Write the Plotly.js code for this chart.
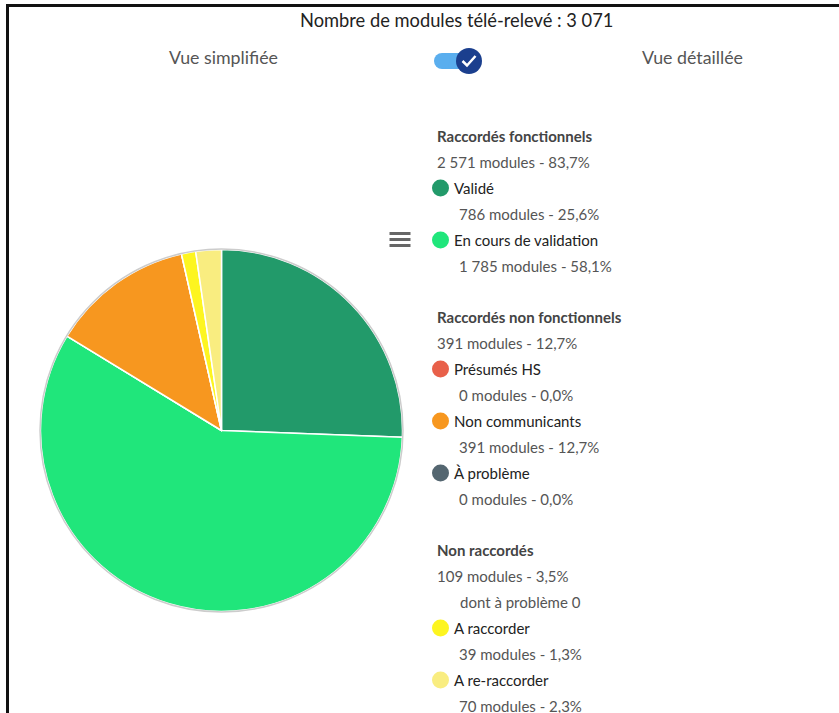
<!DOCTYPE html>
<html>
<head>
<meta charset="utf-8">
<script src="https://cdn.plot.ly/plotly-3.0.1.min.js"></script>
<style>html,body{margin:0;padding:0;background:#fff;}#chart{width:839px;height:713px;}</style>
</head>
<body>
<div id="chart"></div>
<script>
// ---- data ----
const groupNames = ["Raccordés fonctionnels", "Raccordés non fonctionnels", "Non raccordés"];
const labels = ["Validé", "En cours de validation", "Présumés HS", "Non communicants", "À problème", "A raccorder", "A re-raccorder"];
const values = [786, 1785, 0, 391, 0, 39, 70];
const colors = ["#229a6a", "#20e67b", "#e8604a", "#f7971f", "#546670", "#fdf520", "#f9ed80"];
const groupOf = [0, 0, 1, 1, 1, 2, 2];
const groupProblem = [null, null, 0];
const titleText = "Nombre de modules télé-relevé";
const toggleLeft = "Vue simplifiée";
const toggleRight = "Vue détaillée";

// ---- helpers ----
const W = 839, H = 713;
const px = x => x / W;
const py = y => 1 - y / H;
const fmtInt = n => String(n).replace(/\B(?=(\d{3})+(?!\d))/g, " ");
const fmtPct = p => p.toFixed(1).replace(".", ",") + "%";
const total = values.reduce((a, b) => a + b, 0);

const FONT = "Lato, 'Open Sans', sans-serif";
const annotations = [];
const shapes = [];
function txt(x, y, text, opts) {
  opts = opts || {};
  annotations.push({
    xref: "paper", yref: "paper", x: px(x), y: py(y), text: text,
    xanchor: opts.xanchor || "left", yanchor: "middle", showarrow: false,
    font: {family: FONT, size: opts.size || 15, color: opts.color || "#444"}
  });
}

// title & toggle
txt(456, 20, titleText + " : " + fmtInt(total), {xanchor: "center", size: 18.3, color: "#222"});
txt(223, 57, toggleLeft, {xanchor: "center", size: 17.8, color: "#555"});
txt(692, 57, toggleRight, {xanchor: "center", size: 17.8, color: "#555"});

// toggle track
shapes.push({type: "path", xref: "paper", yref: "paper",
  path: `M ${px(442)} ${py(53)} L ${px(466)} ${py(53)} L ${px(466)} ${py(69)} L ${px(442)} ${py(69)} Z`,
  fillcolor: "#5aaeee", line: {width: 0}});
shapes.push({type: "circle", xref: "paper", yref: "paper", x0: px(434), x1: px(450), y0: py(53), y1: py(69), fillcolor: "#5aaeee", line: {width: 0}});
shapes.push({type: "circle", xref: "paper", yref: "paper", x0: px(456), x1: px(482), y0: py(48), y1: py(74), fillcolor: "#1b3f8e", line: {width: 0}});
shapes.push({type: "path", xref: "paper", yref: "paper",
  path: `M ${px(462.5)} ${py(61)} L ${px(467)} ${py(65.5)} L ${px(475.5)} ${py(56)}`,
  line: {color: "#ffffff", width: 2.5}});

// frame
shapes.push({type: "line", xref: "paper", yref: "paper", x0: px(6), x1: px(839), y0: py(5.5), y1: py(5.5), line: {color: "#111", width: 3}});
shapes.push({type: "line", xref: "paper", yref: "paper", x0: px(7.5), x1: px(7.5), y0: py(4), y1: py(713), line: {color: "#111", width: 3}});

// hamburger menu
[233.5, 239.5, 245.5].forEach(y => shapes.push({type: "line", xref: "paper", yref: "paper",
  x0: px(389.5), x1: px(410.5), y0: py(y), y1: py(y), line: {color: "#666", width: 3}}));

// legend
let y = 136;
groupNames.forEach((g, gi) => {
  const idx = labels.map((_, i) => i).filter(i => groupOf[i] === gi);
  const gsum = idx.reduce((a, i) => a + values[i], 0);
  annotations.push({xref: "paper", yref: "paper", x: px(435), y: py(y), text: "<b>" + g + "</b>",
    xanchor: "left", yanchor: "middle", showarrow: false, font: {family: FONT, size: 15, color: "#444"}});
  y += 26;
  txt(435, y, fmtInt(gsum) + " modules - " + fmtPct(gsum / total * 100), {color: "#555"});
  y += 26;
  if (groupProblem[gi] !== null) {
    txt(458, y, "dont à problème " + groupProblem[gi], {color: "#555"});
    y += 26;
  }
  idx.forEach(i => {
    shapes.push({type: "circle", xref: "paper", yref: "paper", x0: px(432), x1: px(449), y0: py(y - 8.5), y1: py(y + 8.5),
      fillcolor: colors[i], line: {width: 0}});
    txt(452, y, labels[i], {color: "#222"});
    y += 26;
    txt(457, y, fmtInt(values[i]) + " modules - " + fmtPct(values[i] / total * 100), {color: "#555"});
    y += 26;
  });
  y += 25;
});

// pie outline
const cx = 221.5, cy = 430.5, R = 181;
shapes.push({type: "circle", xref: "paper", yref: "paper", layer: "above",
  x0: px(cx - R - 0.5), x1: px(cx + R + 0.5), y0: py(cy + R + 0.5), y1: py(cy - R - 0.5),
  line: {color: "#cccccc", width: 1.5}});

const trace = {
  type: "pie", values: values, labels: labels, sort: false, direction: "clockwise", rotation: 0,
  marker: {colors: colors, line: {color: "#ffffff", width: 1.5}},
  textinfo: "none", hoverinfo: "label+value+percent", showlegend: false,
  domain: {x: [px(cx - R), px(cx + R)], y: [py(cy + R), py(cy - R)]}
};

Plotly.newPlot("chart", [trace], {
  width: W, height: H, margin: {l: 0, r: 0, t: 0, b: 0},
  paper_bgcolor: "#ffffff", showlegend: false,
  annotations: annotations, shapes: shapes
}, {displayModeBar: false, staticPlot: true});
</script>
</body>
</html>
